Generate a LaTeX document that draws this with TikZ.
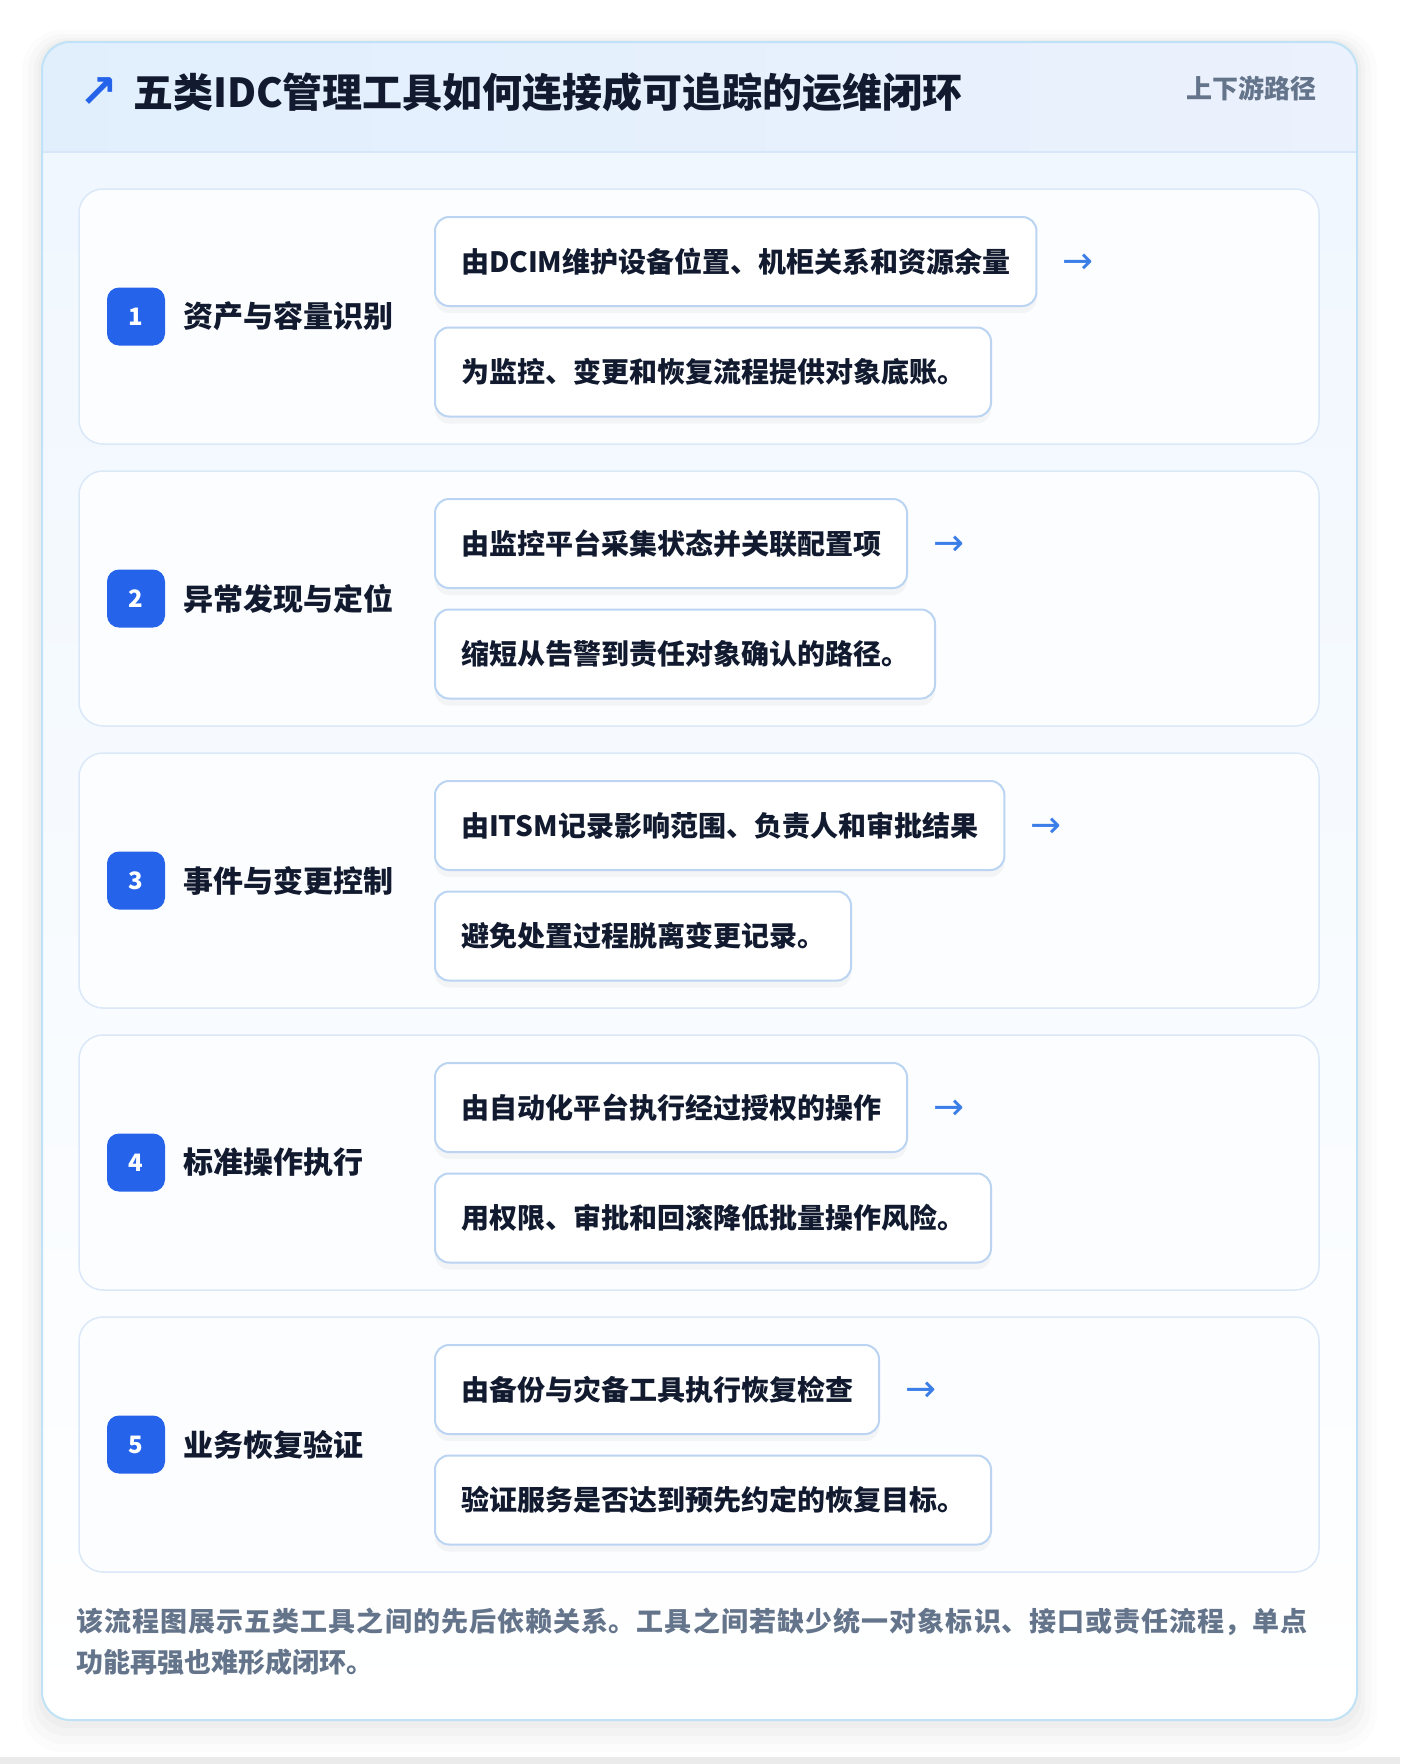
\documentclass[tikz,border=0pt]{standalone}
\usepackage{fontspec}
\setmainfont{Noto Sans CJK SC}
\newfontfamily\symfont{DejaVu Sans}
\XeTeXlinebreaklocale "zh"
\XeTeXlinebreakskip=0pt plus 2pt
\usetikzlibrary{positioning, calc, shadows}

\definecolor{pagebg}{HTML}{FFFFFF}
\definecolor{cardline}{HTML}{BFE2F6}
\definecolor{headleft}{HTML}{E1EFFD}
\definecolor{headright}{HTML}{EBF1FD}
\definecolor{headline}{HTML}{D6E7FA}
\definecolor{bodytop}{HTML}{F0F7FE}
\definecolor{rowfill}{HTML}{FCFDFF}
\definecolor{rowline}{HTML}{DAE8F8}
\definecolor{boxline}{HTML}{BAD4F2}
\definecolor{badgeblue}{HTML}{2563EB}
\definecolor{ink}{HTML}{111A2E}
\definecolor{muted}{HTML}{64748B}
\definecolor{arrowblue}{HTML}{3B7EE8}

\begin{document}
\begin{tikzpicture}[
  x=1pt, y=-1pt,
  every node/.style={inner sep=0pt, outer sep=0pt},
  rowcard/.style={draw=rowline, line width=1.5pt, fill=rowfill, rounded corners=24pt,
    minimum width=1240pt, minimum height=255pt},
  badge/.style={fill=badgeblue, rounded corners=12pt, minimum size=58pt, text=white,
    font=\fontsize{24}{28}\selectfont\bfseries},
  steplabel/.style={anchor=west, text=ink, font=\fontsize{30}{36}\selectfont\bfseries},
  toolbox/.style={anchor=west, draw=boxline, line width=2pt, fill=white, rounded corners=14pt,
    minimum height=89pt, inner xsep=26pt, text=ink, font=\fontsize{28}{34}\selectfont\bfseries,
    drop shadow={opacity=0.07, shadow xshift=0pt, shadow yshift=-7pt}},
  flowarrow/.style={anchor=west, text=arrowblue, font=\symfont\fontsize{37}{37}\selectfont}
]
\useasboundingbox (0,0) rectangle (1400,1764);
\fill[pagebg] (0,0) rectangle (1400,1764);
\fill[black!8] (0,1757) rectangle (1400,1764);

% soft shadow of the card
\fill[black, opacity=0.012, rounded corners=40pt] (22,30) rectangle (1377,1752);
\fill[black, opacity=0.015, rounded corners=36pt] (28,34) rectangle (1371,1744);
\fill[black, opacity=0.018, rounded corners=32pt] (34,38) rectangle (1365,1736);
\fill[black, opacity=0.02, rounded corners=30pt] (38,40) rectangle (1361,1728);

% card with header band
\fill[white, rounded corners=28pt] (42,42) rectangle (1357,1720);
\begin{scope}
  \clip[rounded corners=28pt] (42,42) rectangle (1357,1720);
  \shade[top color=bodytop, bottom color=white] (42,152) rectangle (1357,1720);
  \shade[left color=headleft, right color=headright] (42,42) rectangle (1357,152);
\end{scope}
\draw[headline, line width=1.5pt] (42,152) -- (1357,152);
\draw[cardline, line width=2pt, rounded corners=28pt] (42,42) rectangle (1357,1720);

\node[text=badgeblue, font=\symfont\bfseries\fontsize{46}{46}\selectfont] (mark) at (99,93) {↗};
\node[anchor=west, text=ink, font=\fontsize{40}{46}\selectfont\bfseries] (title) at (133,92)
  {五类IDC管理工具如何连接成可追踪的运维闭环};
\node[anchor=east, text=muted, font=\fontsize{26}{30}\selectfont\bfseries] (route) at (1316,88)
  {上下游路径};

% step 1
\node[rowcard] (row1) at (699,316.5) {};
\node[badge] (b1) at ($(row1.west)+(57,0)$) {1};
\node[steplabel, right=18pt of b1] (l1) {资产与容量识别};
\node[toolbox] (t1) at ($(row1.west)+(356,-55)$) {由DCIM维护设备位置、机柜关系和资源余量};
\node[toolbox] (d1) at ($(row1.west)+(356,55.5)$) {为监控、变更和恢复流程提供对象底账。};
\node[flowarrow, right=26pt of t1, yshift=-2pt] (a1) {→};

% step 2
\node[rowcard] (row2) at (699,598.5) {};
\node[badge] (b2) at ($(row2.west)+(57,0)$) {2};
\node[steplabel, right=18pt of b2] (l2) {异常发现与定位};
\node[toolbox] (t2) at ($(row2.west)+(356,-55)$) {由监控平台采集状态并关联配置项};
\node[toolbox] (d2) at ($(row2.west)+(356,55.5)$) {缩短从告警到责任对象确认的路径。};
\node[flowarrow, right=26pt of t2, yshift=-2pt] (a2) {→};

% step 3
\node[rowcard] (row3) at (699,880.5) {};
\node[badge] (b3) at ($(row3.west)+(57,0)$) {3};
\node[steplabel, right=18pt of b3] (l3) {事件与变更控制};
\node[toolbox] (t3) at ($(row3.west)+(356,-55)$) {由ITSM记录影响范围、负责人和审批结果};
\node[toolbox] (d3) at ($(row3.west)+(356,55.5)$) {避免处置过程脱离变更记录。};
\node[flowarrow, right=26pt of t3, yshift=-2pt] (a3) {→};

% step 4
\node[rowcard] (row4) at (699,1162.5) {};
\node[badge] (b4) at ($(row4.west)+(57,0)$) {4};
\node[steplabel, right=18pt of b4] (l4) {标准操作执行};
\node[toolbox] (t4) at ($(row4.west)+(356,-55)$) {由自动化平台执行经过授权的操作};
\node[toolbox] (d4) at ($(row4.west)+(356,55.5)$) {用权限、审批和回滚降低批量操作风险。};
\node[flowarrow, right=26pt of t4, yshift=-2pt] (a4) {→};

% step 5
\node[rowcard] (row5) at (699,1444.5) {};
\node[badge] (b5) at ($(row5.west)+(57,0)$) {5};
\node[steplabel, right=18pt of b5] (l5) {业务恢复验证};
\node[toolbox] (t5) at ($(row5.west)+(356,-55)$) {由备份与灾备工具执行恢复检查};
\node[toolbox] (d5) at ($(row5.west)+(356,55.5)$) {验证服务是否达到预先约定的恢复目标。};
\node[flowarrow, right=26pt of t5, yshift=-2pt] (a5) {→};

% footnote
\node[anchor=north west, text width=1232pt, align=justify, text=muted,
  font=\fontsize{27}{41}\selectfont\bfseries] (note) at (76,1608)
  {该流程图展示五类工具之间的先后依赖关系。工具之间若缺少统一对象标识、接口或责任流程，单点\linebreak 功能再强也难形成闭环。};

\end{tikzpicture}
\end{document}
